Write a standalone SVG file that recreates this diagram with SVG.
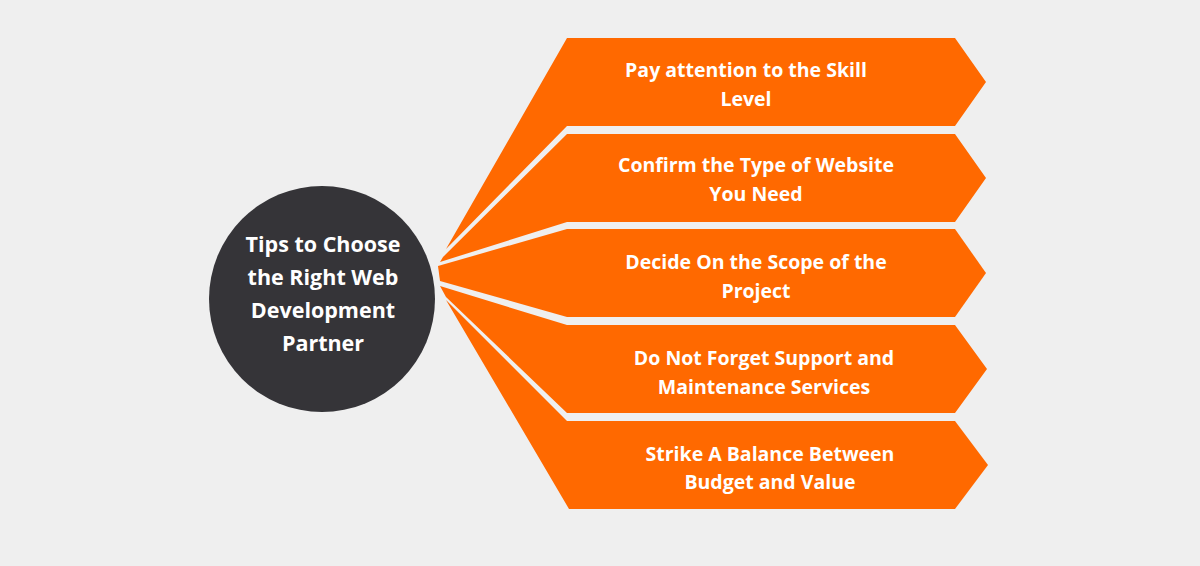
<svg xmlns="http://www.w3.org/2000/svg" width="1200" height="566" viewBox="0 0 1200 566">
<style>
.s{fill:#ff6900}
.t{font-family:"Open Sans","Liberation Sans",sans-serif;font-weight:700;font-size:19.5px;fill:#fff;text-anchor:middle}
.c{font-size:21.5px}
</style>
<rect width="1200" height="566" fill="#efefef"/>
<g id="connectors"></g>
<g id="n1"><polygon class="s" points="567,38 955,38 986,82 955,126 567,126 446,249"/>
<text class="t" x="746" y="77">Pay attention to the Skill</text><text class="t" x="746" y="106">Level</text></g>
<g id="n2"><polygon class="s" points="567,134 955,134 986,178 955,222 567,222 440,262 443,257"/>
<text class="t" x="756" y="172">Confirm the Type of Website</text><text class="t" x="756" y="201">You Need</text></g>
<g id="n3"><polygon class="s" points="567,229 955,229 986,273 955,317 567,317 440,281 438,266"/>
<text class="t" x="756" y="269">Decide On the Scope of the</text><text class="t" x="756" y="298">Project</text></g>
<g id="n4"><polygon class="s" points="567,325 955,325 987,369 955,413 567,413 446,297 440,286"/>
<text class="t" x="764" y="365">Do Not Forget Support and</text><text class="t" x="764" y="394">Maintenance Services</text></g>
<g id="n5"><polygon class="s" points="567,421 955,421 988,465 955,509 569,509 446,300"/>
<text class="t" x="770" y="461">Strike A Balance Between</text><text class="t" x="770" y="489">Budget and Value</text></g>
<g id="center"><circle cx="322" cy="299" r="113" fill="#353438"/>
<text class="t c" x="323" y="252">Tips to Choose</text><text class="t c" x="323" y="285">the Right Web</text><text class="t c" x="323" y="318">Development</text><text class="t c" x="323" y="351">Partner</text></g>
</svg>
